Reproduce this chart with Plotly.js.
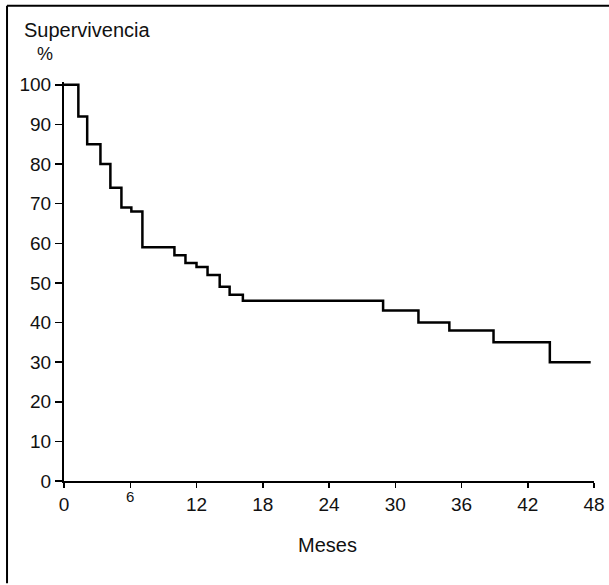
<!DOCTYPE html>
<html>
<head>
<meta charset="utf-8">
<script src="https://cdn.plot.ly/plotly-3.0.1.min.js"></script>
<style>html,body{margin:0;padding:0;background:#fff;}#chart{width:609px;height:585px;}</style>
</head>
<body>
<div id="chart"></div>
<script>
// Kaplan-Meier step data
const months   = [0, 1.3, 2.1, 3.3, 4.2, 5.2, 6.1, 7.1, 10, 11, 12, 13, 14.1, 15, 16.2, 28.9, 32.1, 34.9, 38.9, 44, 47.7];
const survival = [100, 92, 85, 80, 74, 69, 68, 59, 57, 55, 54, 52, 49, 47, 45.5, 43, 40, 38, 35, 30, 30];
const xTickVals = [0, 6, 12, 18, 24, 30, 36, 42, 48];
const xTickText = ['0', '', '12', '18', '24', '30', '36', '42', '48'];
const raisedTick = 6;            // the "6" label is printed smaller and raised
const yTickVals = [0, 10, 20, 30, 40, 50, 60, 70, 80, 90, 100];

const fam = '"Liberation Sans", Arial, sans-serif';
const font = {family: fam, color: '#111', size: 19};

const trace = {
  x: months, y: survival, type: 'scatter', mode: 'lines',
  line: {shape: 'hv', color: '#000', width: 2.5},
  hoverinfo: 'skip'
};

const layout = {
  width: 609, height: 585,
  margin: {l: 64, r: 15, t: 82, b: 104},
  paper_bgcolor: '#fff', plot_bgcolor: '#fff',
  showlegend: false,
  font: font,
  xaxis: {
    range: [0, 48], tickvals: xTickVals, ticktext: xTickText,
    showgrid: false, zeroline: false, showline: true, linecolor: '#000', linewidth: 2,
    ticks: 'outside', ticklen: 5, tickwidth: 1.5, tickcolor: '#000',
    tickfont: font, fixedrange: true
  },
  yaxis: {
    range: [0, 100.7], tickvals: yTickVals,
    showgrid: false, zeroline: false, showline: true, linecolor: '#000', linewidth: 2,
    ticks: 'outside', ticklen: 7, tickwidth: 1.5, tickcolor: '#000',
    tickfont: font, fixedrange: true
  },
  annotations: [
    {text: 'Supervivencia', xref: 'paper', yref: 'paper', x: -0.0798, y: 1.131,
     xanchor: 'left', yanchor: 'middle', showarrow: false, font: {family: fam, size: 20, color: '#111'}},
    {text: '%', xref: 'paper', yref: 'paper', x: -0.0358, y: 1.069,
     xanchor: 'center', yanchor: 'middle', showarrow: false, font: {family: fam, size: 18, color: '#111'}},
    {text: 'Meses', xref: 'paper', yref: 'paper', x: 0.498, y: -0.1605,
     xanchor: 'center', yanchor: 'middle', showarrow: false, font: {family: fam, size: 20, color: '#111'}},
    {text: String(raisedTick), xref: 'x', yref: 'paper', x: raisedTick, y: -0.040,
     xanchor: 'center', yanchor: 'middle', showarrow: false, font: {family: fam, size: 15, color: '#111'}}
  ],
  shapes: [
    {type: 'line', xref: 'paper', yref: 'paper', x0: -0.1075, x1: -0.1075, y0: 1.191, y1: -0.256,
     line: {color: '#000', width: 2}},
    {type: 'line', xref: 'paper', yref: 'paper', x0: -0.1075, x1: 1.03, y0: 1.191, y1: 1.191,
     line: {color: '#000', width: 2}}
  ]
};

Plotly.newPlot('chart', [trace], layout, {displayModeBar: false, staticPlot: true});
</script>
</body>
</html>
